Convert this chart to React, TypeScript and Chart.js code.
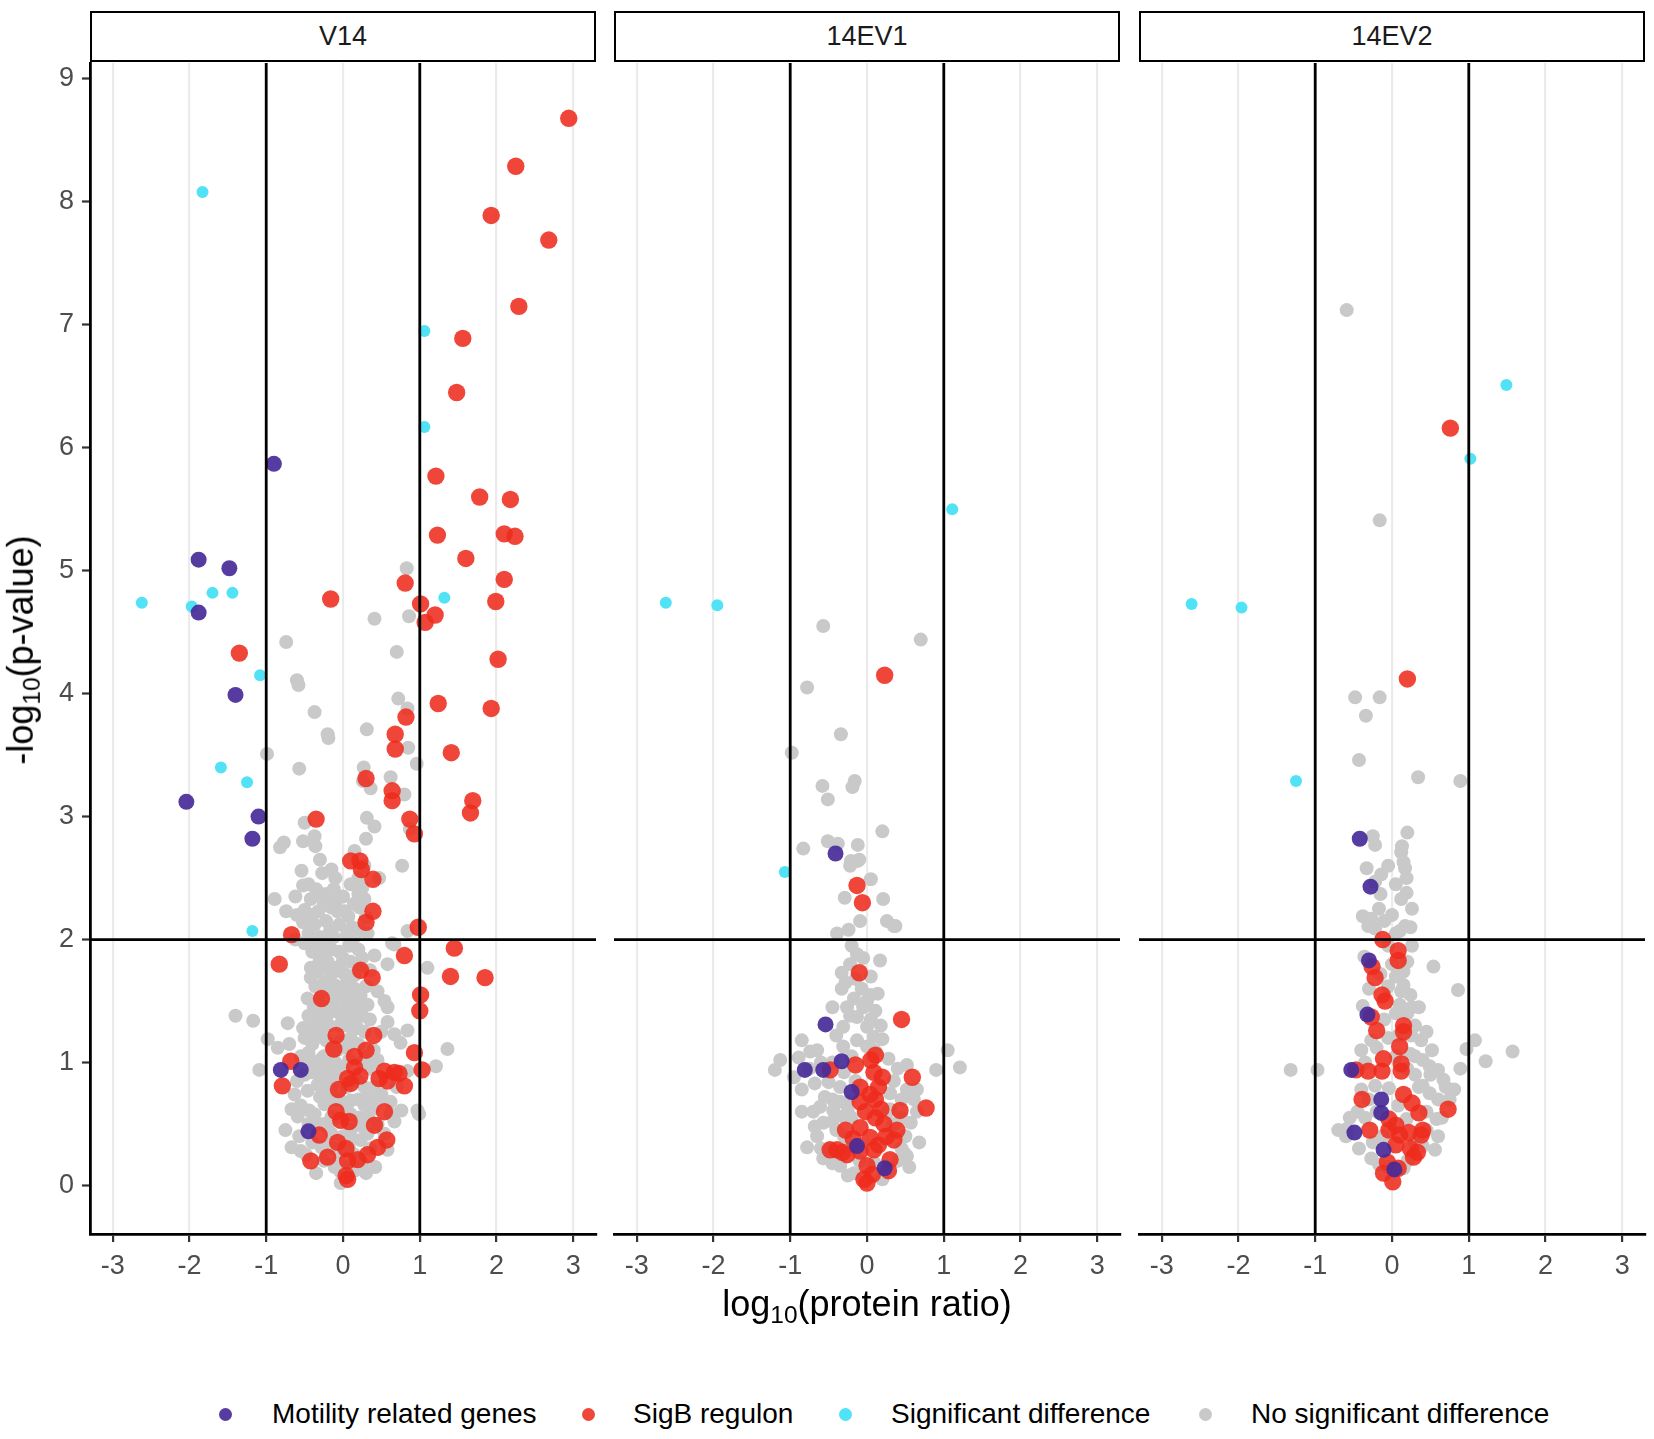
import { useEffect, useRef } from 'react';
import { Chart, registerables } from 'chart.js';
import type { Plugin } from 'chart.js';

Chart.register(...registerables);

type Pt = [number, number];

// ---- data (log10 ratio, -log10 p) ----
const FACETS = ['V14', '14EV1', '14EV2'];
const LEGEND_LABELS = ['Motility related genes', 'SigB regulon', 'Significant difference', 'No significant difference'];
const FC_CUTOFFS = [-1, 1];
const P_CUTOFF = 2;

const V14_MOTILITY: Pt[] = [
  [-0.90, 5.87], [-1.88, 5.09], [-1.48, 5.02], [-1.88, 4.66], [-1.40, 3.99], [-2.04, 3.12],
  [-1.10, 3.00], [-1.18, 2.82], [-0.81, 0.94], [-0.55, 0.94], [-0.45, 0.44],
];
const V14_SIGB: Pt[] = [
  [2.94, 8.68], [2.25, 8.29], [1.93, 7.89], [2.68, 7.69], [2.29, 7.15], [1.56, 6.89], [1.48, 6.45],
  [1.21, 5.77], [1.78, 5.60], [2.18, 5.58], [1.23, 5.29], [2.10, 5.30], [2.24, 5.28], [1.60, 5.10],
  [2.10, 4.93], [0.81, 4.90], [-0.16, 4.77], [1.01, 4.73], [1.99, 4.75], [1.20, 4.64], [1.07, 4.58],
  [-1.35, 4.33], [2.02, 4.28], [1.24, 3.92], [1.93, 3.88], [0.82, 3.81], [0.68, 3.67], [0.68, 3.55],
  [1.41, 3.52], [0.30, 3.31], [0.64, 3.21], [0.64, 3.13], [1.69, 3.13], [1.66, 3.03], [-0.35, 2.98],
  [0.87, 2.98], [0.93, 2.86], [0.10, 2.64], [0.22, 2.64], [0.24, 2.57], [0.39, 2.49], [0.39, 2.23],
  [0.30, 2.14], [0.98, 2.10], [-0.67, 2.04], [1.45, 1.93], [-0.83, 1.80], [0.80, 1.87], [0.23, 1.75],
  [0.38, 1.69], [1.40, 1.70], [1.85, 1.69], [1.01, 1.55], [1.00, 1.42], [-0.28, 1.52], [-0.09, 1.22],
  [0.40, 1.22], [-0.12, 1.11], [0.30, 1.10], [0.15, 1.05], [-0.68, 1.01], [0.93, 1.08], [1.03, 0.94],
  [0.15, 0.96], [0.22, 0.89], [0.06, 0.87], [-0.06, 0.78], [0.10, 0.83], [0.54, 0.93], [0.67, 0.92],
  [0.73, 0.91], [0.47, 0.87], [0.58, 0.85], [0.80, 0.81], [-0.79, 0.81], [-0.09, 0.60], [-0.03, 0.53],
  [0.08, 0.52], [0.54, 0.60], [0.41, 0.49], [-0.31, 0.41], [-0.07, 0.35], [0.04, 0.30], [0.57, 0.37],
  [0.45, 0.31], [0.32, 0.25], [-0.20, 0.23], [0.06, 0.20], [0.19, 0.21], [-0.42, 0.20], [0.06, 0.05],
  [0.04, 0.08],
];
const V14_SIG: Pt[] = [
  [-1.83, 8.08], [-2.62, 4.74], [-1.97, 4.71], [-1.70, 4.82], [-1.44, 4.82], [-1.08, 4.15],
  [-1.59, 3.40], [-1.25, 3.28], [-1.18, 2.07], [1.06, 6.95], [1.06, 6.17], [1.32, 4.78],
];
const V14_NONE: Pt[] = [
  [0.83, 5.02], [0.86, 4.63], [0.41, 4.61], [-0.74, 4.42], [0.70, 4.34], [-0.60, 4.11], [-0.58, 4.07],
  [0.72, 3.96], [0.84, 3.88], [-0.37, 3.85], [0.31, 3.71], [-0.20, 3.67], [-0.19, 3.64], [0.85, 3.56],
  [-0.99, 3.51], [0.96, 3.43], [-0.57, 3.39], [0.27, 3.40], [0.62, 3.32], [0.26, 3.29], [0.36, 3.23],
  [0.80, 3.18], [-0.50, 2.95], [0.31, 2.99], [0.41, 2.92], [-0.37, 2.84], [0.30, 2.82], [-0.77, 2.79],
  [-0.82, 2.75], [-0.52, 2.80], [-0.36, 2.76], [0.87, 2.90], [0.77, 2.60], [-0.54, 2.56], [-0.27, 2.54],
  [-0.15, 2.57], [0.20, 2.50], [0.47, 2.50], [-0.52, 2.44], [-0.35, 2.41], [-0.12, 2.41], [-0.42, 2.33],
  [-0.27, 2.34], [-0.20, 2.31], [-0.89, 2.33], [-0.74, 2.23], [-0.50, 2.24], [-0.32, 2.23], [-0.15, 2.26],
  [-0.07, 2.23], [0.07, 2.19], [0.22, 2.26], [0.20, 2.37], [0.25, 2.42], [-0.52, 2.14], [-0.37, 2.12],
  [-0.22, 2.15], [-0.17, 2.07], [0.12, 2.10], [0.22, 2.07], [0.84, 2.07], [0.64, 1.97], [-0.62, 2.00],
  [-0.50, 1.97], [-0.32, 2.37], [-0.22, 2.37], [0.02, 2.23], [0.14, 2.29], [0.30, 2.18], [0.32, 2.05],
  [0.05, 2.04], [-0.05, 2.12], [0.28, 2.33], [-0.10, 2.30], [-0.45, 2.05], [-0.30, 2.02], [-0.12, 2.02],
  [0.15, 2.02], [-0.40, 2.20], [-0.25, 2.28], [-0.60, 2.20], [-0.45, 2.45], [-0.10, 2.50], [0.10, 2.45],
  [-0.62, 2.35], [0.00, 2.35], [0.28, 2.60], [-0.30, 2.65], [0.15, 2.72],
  [-0.48, 1.97], [-0.22, 1.96], [0.67, 1.96], [0.58, 1.80], [1.10, 1.77], [-0.42, 1.77], [-0.33, 1.74],
  [-0.20, 1.82], [-0.11, 1.74], [-0.42, 1.69], [-0.24, 1.66], [-0.11, 1.63], [0.10, 1.82], [0.15, 1.71],
  [0.15, 1.60], [0.23, 1.55], [0.10, 1.50], [0.32, 1.47], [0.58, 1.45], [-0.37, 1.39], [-0.20, 1.39],
  [-0.42, 1.28], [-0.28, 1.26], [0.10, 1.39], [0.19, 1.28], [0.58, 1.33], [0.67, 1.23], [0.75, 1.16],
  [0.84, 1.26], [-1.17, 1.34], [-0.72, 1.32], [-1.40, 1.38], [-0.98, 1.19], [-0.85, 1.12], [-0.70, 1.15],
  [-1.09, 0.94], [1.36, 1.11], [1.21, 0.97], [0.84, 0.93], [-0.42, 1.01], [-0.29, 0.93], [-0.33, 0.82],
  [-0.46, 0.77], [-0.63, 0.74], [-0.20, 0.77], [-0.24, 0.66], [-0.67, 0.62], [-0.59, 0.56], [-0.37, 0.58],
  [-0.20, 0.48], [0.32, 0.72], [0.50, 0.74], [0.32, 0.56], [0.76, 0.61], [0.97, 0.61], [0.99, 0.58],
  [-0.67, 0.31], [-0.57, 0.40], [-0.28, 0.31], [-0.11, 0.15], [-0.03, 0.11], [0.15, 0.12], [-0.03, 0.02],
  [0.58, 0.29], [0.23, 0.37], [-0.15, 0.56], [0.10, 0.69], [0.19, 0.85], [-0.15, 0.90], [-0.15, 1.12],
  [-0.03, 1.17], [0.10, 1.20], [-0.03, 1.39], [-0.03, 1.52], [-0.46, 1.52], [-0.33, 1.50], [-0.07, 1.77],
  [0.41, 1.87], [0.54, 1.50], [-0.35, 0.50], [-0.44, 0.61], [0.45, 0.69], [0.67, 0.52], [0.32, 0.42],
  [0.54, 0.42], [-0.05, 1.90], [0.05, 1.65], [-0.40, 1.90], [-0.30, 1.85], [0.25, 1.85], [0.30, 1.62],
  [0.35, 1.35], [0.40, 1.10], [0.45, 1.02], [-0.50, 1.20], [-0.55, 1.05], [-0.40, 1.15], [-0.25, 1.05],
  [-0.10, 1.00], [0.00, 0.95], [-0.05, 0.70], [0.00, 0.40], [-0.12, 0.30], [0.10, 0.45], [0.20, 0.55],
  [0.28, 0.65], [-0.50, 0.90], [-0.60, 0.85], [-0.40, 0.35], [-0.25, 0.20], [0.08, 0.30], [0.25, 0.18],
  [-0.18, 1.65], [0.35, 1.75], [0.45, 1.58], [-0.55, 0.28], [0.42, 0.15], [-0.35, 0.10], [0.62, 0.68],
  [0.70, 0.80], [-0.75, 0.45], [0.15, 1.40], [-0.12, 1.48], [0.25, 1.00], [0.50, 1.25], [-0.30, 1.60],
  [0.05, 1.30], [-0.35, 1.95], [-0.25, 1.90], [-0.15, 1.92], [0.00, 1.85], [0.08, 1.95], [0.20, 1.92],
  [-0.32, 1.80], [-0.18, 1.76], [-0.05, 1.78], [0.02, 1.72], [0.20, 1.78], [-0.36, 1.62], [-0.27, 1.58],
  [-0.14, 1.56], [-0.02, 1.60], [0.08, 1.56], [0.22, 1.45], [-0.38, 1.45], [-0.25, 1.45], [-0.10, 1.42],
  [0.05, 1.44], [0.25, 1.38], [-0.45, 1.38], [-0.32, 1.33], [-0.18, 1.30], [-0.05, 1.30], [0.12, 1.32],
  [0.28, 1.25], [-0.52, 1.28], [-0.35, 1.20], [-0.22, 1.18], [-0.08, 1.10], [0.05, 1.12], [0.20, 1.15],
  [0.32, 1.05], [-0.45, 1.08], [-0.30, 1.02], [-0.18, 0.98], [0.08, 1.02], [0.35, 0.95], [-0.40, 0.92],
  [-0.10, 0.88], [0.05, 0.80], [0.28, 0.80], [-0.28, 0.85], [-0.15, 0.80], [0.40, 0.80], [-0.12, 0.70],
  [0.05, 0.62], [0.20, 0.70], [-0.30, 0.72], [0.38, 0.62], [-0.10, 0.55], [0.10, 0.58], [-0.25, 0.50],
  [0.25, 0.48], [-0.15, 0.42], [0.12, 0.38], [-0.05, 0.25], [0.15, 0.25], [-0.20, 0.32], [0.35, 0.30],
  [-0.08, 0.18], [0.02, 0.15], [-0.45, 0.50], [0.45, 0.50], [-0.55, 0.65], [0.62, 0.58], [-0.48, 0.25],
  [0.30, 0.10],
];

const EV1_MOTILITY: Pt[] = [
  [-0.41, 2.70], [-0.54, 1.31], [-0.33, 1.01], [-0.81, 0.94], [-0.57, 0.94], [-0.20, 0.76],
  [-0.13, 0.32], [0.23, 0.14],
];
const EV1_SIGB: Pt[] = [
  [0.23, 4.15], [-0.13, 2.44], [-0.06, 2.30], [-0.10, 1.73], [0.45, 1.35], [0.11, 1.06], [-0.48, 0.94],
  [-0.15, 0.98], [0.09, 0.92], [0.20, 0.88], [0.59, 0.88], [-0.09, 0.80], [0.04, 0.74], [-0.09, 0.68],
  [0.11, 0.70], [0.43, 0.61], [0.77, 0.63], [0.11, 0.55], [-0.09, 0.47], [-0.28, 0.45], [0.39, 0.45],
  [0.04, 0.39], [0.35, 0.37], [-0.39, 0.29], [-0.26, 0.25], [-0.09, 0.28], [0.09, 0.29], [0.30, 0.21],
  [0.00, 0.16], [0.07, 0.09], [0.00, 0.02], [-0.04, 0.05], [-0.48, 0.29], [0.05, 1.02], [0.15, 0.80],
  [-0.02, 0.60], [0.18, 0.62], [0.22, 0.50], [-0.18, 0.38], [0.15, 0.33], [0.25, 0.40], [-0.32, 0.27],
  [0.28, 0.12],
];
const EV1_SIG: Pt[] = [[-2.62, 4.74], [-1.95, 4.72], [1.11, 5.50], [-1.07, 2.55]];
const EV1_NONE: Pt[] = [
  [-0.57, 4.55], [0.70, 4.44], [-0.78, 4.05], [-0.34, 3.67], [-0.98, 3.52], [-0.58, 3.25], [-0.16, 3.29],
  [-0.19, 3.24], [-0.51, 3.14], [0.20, 2.88], [-0.51, 2.80], [-0.38, 2.78], [-0.83, 2.74], [-0.12, 2.77],
  [-0.21, 2.64], [-0.12, 2.64], [-0.22, 2.60], [0.05, 2.49], [0.21, 2.33], [-0.29, 2.34], [-0.10, 2.65],
  [-0.09, 2.15], [0.26, 2.15], [0.37, 2.11], [-0.39, 2.05], [-0.24, 2.08], [0.35, 2.11],
  [-0.13, 1.88], [0.17, 1.83], [-0.22, 1.80], [-0.33, 1.73], [-0.33, 1.60], [-0.07, 1.60], [0.14, 1.56],
  [-0.17, 1.52], [-0.26, 1.45], [0.11, 1.42], [-0.13, 1.37], [-0.31, 1.29], [0.00, 1.29], [0.20, 1.19],
  [-0.13, 1.18], [-0.85, 1.18], [-0.74, 1.09], [-0.89, 1.04], [-1.13, 1.02], [-1.20, 0.94], [1.05, 1.10],
  [1.21, 0.96], [0.90, 0.94], [0.52, 0.98], [0.65, 0.78], [0.28, 1.03], [-0.85, 0.78], [-0.68, 0.83],
  [-0.50, 0.84], [-0.35, 0.80], [-0.61, 0.64], [-0.44, 0.61], [-0.31, 0.56], [-0.57, 0.51], [-0.65, 0.40],
  [-0.78, 0.31], [-0.57, 0.22], [-0.35, 0.16], [-0.17, 0.10], [0.52, 0.24], [0.68, 0.35], [0.57, 0.51],
  [0.61, 0.70], [0.52, 0.78], [0.26, 0.59], [-0.31, 1.13], [0.00, 1.13], [0.09, 1.21], [0.49, 0.26],
  [-0.45, 0.70], [-0.25, 0.68], [-0.40, 0.45], [-0.20, 0.55], [0.30, 0.75], [0.40, 0.95], [-0.05, 1.45],
  [0.05, 1.70], [-0.45, 1.00], [-0.60, 1.00], [0.35, 0.50], [-0.50, 0.30], [0.40, 0.20],
  [-0.20, 1.95], [-0.05, 1.85], [-0.28, 1.65], [-0.15, 1.68], [0.05, 1.55], [-0.22, 1.38], [0.05, 1.35],
  [0.18, 1.30], [-0.40, 1.22], [-0.20, 1.05], [0.10, 1.10], [-0.65, 1.10], [-0.75, 0.95], [-0.95, 0.88],
  [-0.30, 0.92], [-0.15, 0.85], [0.35, 0.85], [-0.55, 0.72], [-0.35, 0.68], [0.45, 0.70], [-0.70, 0.60],
  [-0.25, 0.60], [0.45, 0.55], [-0.45, 0.52], [0.30, 0.62], [-0.68, 0.48], [-0.30, 0.40], [0.50, 0.40],
  [-0.60, 0.30], [-0.25, 0.30], [0.45, 0.30], [-0.45, 0.18], [-0.25, 0.08], [0.20, 0.05], [0.55, 0.15],
  [-0.10, 0.20], [0.10, 0.18], [-0.85, 0.60], [0.65, 0.60], [0.00, 1.50], [-0.45, 1.45],
];

const EV2_MOTILITY: Pt[] = [
  [-0.42, 2.82], [-0.28, 2.43], [-0.30, 1.83], [-0.32, 1.39], [-0.53, 0.94], [-0.14, 0.70],
  [-0.14, 0.59], [-0.49, 0.43], [-0.11, 0.29], [0.03, 0.13],
];
const EV2_SIGB: Pt[] = [
  [0.76, 6.16], [0.20, 4.12], [-0.12, 2.00], [0.08, 1.91], [0.08, 1.83], [-0.26, 1.78], [-0.22, 1.69],
  [-0.13, 1.55], [-0.09, 1.50], [-0.27, 1.37], [-0.20, 1.26], [0.15, 1.30], [0.15, 1.25], [0.10, 1.13],
  [0.12, 0.99], [0.12, 0.93], [-0.11, 1.03], [-0.13, 0.93], [-0.31, 0.93], [-0.47, 0.94], [-0.39, 0.70],
  [0.15, 0.74], [0.26, 0.67], [0.35, 0.59], [0.73, 0.62], [-0.29, 0.45], [-0.04, 0.45], [0.05, 0.49],
  [0.22, 0.43], [0.40, 0.45], [0.38, 0.41], [0.05, 0.33], [0.24, 0.30], [0.33, 0.27], [0.28, 0.23],
  [-0.06, 0.19], [-0.11, 0.10], [0.01, 0.03], [0.08, 0.14], [-0.04, 0.54], [0.10, 0.41],
];
const EV2_SIG: Pt[] = [[1.49, 6.51], [1.02, 5.91], [-2.61, 4.73], [-1.96, 4.70], [-1.25, 3.29]];
const EV2_NONE: Pt[] = [
  [-0.59, 7.12], [-0.16, 5.41], [-0.48, 3.97], [-0.16, 3.97], [-0.34, 3.82], [-0.43, 3.46], [0.34, 3.32],
  [0.89, 3.29], [-0.25, 2.84], [0.20, 2.87], [0.13, 2.76], [-0.22, 2.77], [0.12, 2.71], [0.15, 2.63],
  [0.17, 2.58], [0.19, 2.50], [-0.33, 2.58], [-0.14, 2.53], [-0.22, 2.47], [0.19, 2.38], [0.12, 2.33],
  [-0.15, 2.37], [0.26, 2.25], [-0.17, 2.25], [-0.38, 2.19], [-0.27, 2.17], [-0.31, 2.11], [0.17, 2.11],
  [0.24, 2.10], [0.10, 2.07], [-0.22, 2.09], [0.26, 1.95], [0.54, 1.78], [0.86, 1.59], [-0.36, 1.86],
  [0.15, 1.74], [0.15, 1.63], [0.24, 1.55], [0.26, 1.45], [0.10, 1.47], [-0.38, 1.46], [-0.27, 1.18],
  [-0.40, 1.10], [0.38, 1.18], [0.24, 1.07], [1.08, 1.18], [0.97, 1.11], [1.57, 1.09], [1.22, 1.01],
  [0.89, 0.95], [-1.32, 0.94], [-0.97, 0.94], [0.40, 1.02], [0.49, 0.97], [0.60, 0.94], [0.67, 0.86],
  [0.81, 0.78], [0.40, 0.81], [0.49, 0.75], [0.60, 0.70], [0.58, 0.54], [0.56, 0.29], [-0.40, 0.78],
  [-0.59, 0.46], [-0.43, 0.30], [-0.27, 0.22], [-0.17, 0.17], [0.15, 0.14], [0.19, 0.54], [-0.04, 0.79],
  [-0.22, 0.81], [0.05, 1.70], [0.05, 1.40], [-0.05, 1.20], [0.30, 0.90], [0.30, 0.35], [-0.20, 0.60],
  [0.45, 0.60], [-0.45, 0.60], [0.20, 0.95], [-0.30, 1.60], [0.00, 2.20], [0.30, 1.30], [0.45, 1.25],
  [-0.05, 2.60], [0.05, 2.45], [-0.10, 2.15], [0.05, 2.05], [-0.05, 1.95], [0.00, 1.80], [0.20, 1.82],
  [-0.15, 1.72], [0.12, 1.58], [-0.05, 1.62], [0.20, 1.40], [0.35, 1.45], [-0.10, 1.35], [0.08, 1.22],
  [0.25, 1.22], [-0.20, 1.12], [0.05, 1.05], [0.30, 1.05], [-0.35, 1.00], [0.50, 0.90], [0.35, 0.80],
  [-0.30, 0.70], [0.70, 0.80], [0.45, 0.45], [-0.60, 0.40], [-0.55, 0.55], [-0.35, 0.55], [-0.25, 0.35],
  [0.40, 0.32], [0.20, 0.20], [-0.05, 0.15], [0.60, 0.40], [-0.70, 0.45], [0.08, 0.65], [-0.12, 0.40],
  [0.65, 0.55], [0.75, 0.70], [0.52, 1.10],
];

const PANEL_DATA = [
  { motility: V14_MOTILITY, sigb: V14_SIGB, sig: V14_SIG, none: V14_NONE },
  { motility: EV1_MOTILITY, sigb: EV1_SIGB, sig: EV1_SIG, none: EV1_NONE },
  { motility: EV2_MOTILITY, sigb: EV2_SIGB, sig: EV2_SIG, none: EV2_NONE },
];

// ---- look ----
const FONT = "'Liberation Sans', Arial, Helvetica, sans-serif";
const COLORS = ['rgba(72,42,152,0.92)', 'rgba(238,44,30,0.88)', '#52E2F6', '#C9C9C9'];
const RADII = [8, 8.7, 6, 7];
const X_MIN = -3.295, X_MAX = 3.295;
const Y_MIN = -0.395, Y_MAX = 9.13;

const PANEL_LEFTS = [90, 614, 1139];
const PANEL_W = 506;
const PLOT_TOP = 63;
const PLOT_H = 1171;
const Y_AXIS_W = 90;
const X_AXIS_H = 60;
const PAD_TOP = 10;
const PAD_RIGHT = 10;
const LINE_W = 2.8;

const refLines: Plugin<'scatter'> = {
  id: 'refLines',
  afterDatasetsDraw(chart) {
    const { ctx, chartArea: a, scales } = chart;
    const x = scales.x, y = scales.y;
    ctx.save();
    ctx.strokeStyle = '#000';
    ctx.lineWidth = LINE_W;
    ctx.beginPath();
    for (const v of FC_CUTOFFS) {
      const px = x.getPixelForValue(v);
      ctx.moveTo(px, a.top);
      ctx.lineTo(px, a.bottom);
    }
    const py = y.getPixelForValue(P_CUTOFF);
    ctx.moveTo(a.left, py);
    ctx.lineTo(a.right, py);
    ctx.stroke();
    ctx.restore();
  },
};

// fixed axis boxes, no label overhang padding, so every panel lines up
const fixX = (s: any) => { s.height = X_AXIS_H; s.paddingLeft = 0; s.paddingRight = 0; };
const fixY = (s: any) => { s.width = Y_AXIS_W; s.paddingTop = 0; s.paddingBottom = 0; };

function Panel({ index }: { index: number }) {
  const canvasRef = useRef<HTMLCanvasElement>(null);
  const showY = index === 0;

  useEffect(() => {
    if (!canvasRef.current) return;
    const d = PANEL_DATA[index];
    // dataset 0 is drawn on top in Chart.js
    const groups = [d.motility, d.sigb, d.sig, d.none];
    const chart = new Chart(canvasRef.current, {
      type: 'scatter',
      data: {
        datasets: groups.map((g, i) => ({
          label: LEGEND_LABELS[i],
          data: g.map(([x, y]) => ({ x, y })),
          backgroundColor: COLORS[i],
          pointRadius: RADII[i],
          pointHoverRadius: RADII[i],
          pointBorderWidth: 0,
          borderWidth: 0,
        })),
      },
      options: {
        responsive: false,
        animation: false,
        events: [],
        layout: { padding: { top: PAD_TOP, right: PAD_RIGHT, left: 0, bottom: 0 } },
        plugins: { legend: { display: false }, tooltip: { enabled: false } },
        scales: {
          x: {
            type: 'linear',
            min: X_MIN,
            max: X_MAX,
            afterFit: fixX,
            ticks: {
              stepSize: 1,
              includeBounds: false,
              color: '#4D4D4D',
              font: { family: FONT, size: 27 },
              padding: 8,
              maxRotation: 0,
            },
            grid: { color: '#EBEBEB', lineWidth: 2.2, drawTicks: true, tickLength: 8, tickColor: '#333333', tickWidth: 2.2 },
            border: { display: true, color: '#000', width: LINE_W },
          },
          y: {
            type: 'linear',
            min: Y_MIN,
            max: Y_MAX,
            afterFit: fixY,
            ticks: {
              display: showY,
              stepSize: 1,
              includeBounds: false,
              color: '#4D4D4D',
              font: { family: FONT, size: 27 },
              padding: 8,
            },
            grid: { display: showY, drawOnChartArea: false, drawTicks: true, tickLength: 8, tickColor: '#333333', tickWidth: 2.2 },
            border: { display: showY, color: '#000', width: LINE_W },
          },
        },
      },
      plugins: [refLines],
    });
    return () => { chart.destroy(); };
  }, [index, showY]);

  const w = Y_AXIS_W + PANEL_W + PAD_RIGHT;
  const h = PAD_TOP + PLOT_H + X_AXIS_H;
  return (
    <>
      <div style={{
        position: 'absolute', left: PANEL_LEFTS[index], top: 11, width: PANEL_W, height: 51,
        border: '2.5px solid #000', boxSizing: 'border-box', display: 'flex', alignItems: 'center',
        justifyContent: 'center', fontFamily: FONT, fontSize: 27, color: '#1A1A1A', background: '#fff',
      }}>{FACETS[index]}</div>
      <canvas
        ref={canvasRef}
        width={w}
        height={h}
        style={{ position: 'absolute', left: PANEL_LEFTS[index] - Y_AXIS_W, top: PLOT_TOP - PAD_TOP, width: w, height: h }}
      />
    </>
  );
}

const LEGEND_KEY_X = [225, 588, 845, 1205];
const LEGEND_TEXT_X = [272, 633, 891, 1251];

export default function App() {
  return (
    <div style={{ position: 'absolute', left: 0, top: 0, width: 1654, height: 1439, background: '#fff', fontFamily: FONT, overflow: 'hidden' }}>
      {FACETS.map((_, i) => <Panel key={i} index={i} />)}
      <div style={{
        position: 'absolute', left: 23, top: 650, transform: 'translate(-50%, -50%) rotate(-90deg)',
        whiteSpace: 'nowrap', fontSize: 36, color: '#000',
      }}>-log<sub style={{ fontSize: '0.68em', verticalAlign: '-0.3em' }}>10</sub>(p-value)</div>
      <div style={{
        position: 'absolute', left: 867, top: 1306, transform: 'translate(-50%, -50%)',
        whiteSpace: 'nowrap', fontSize: 36, color: '#000',
      }}>log<sub style={{ fontSize: '0.68em', verticalAlign: '-0.3em' }}>10</sub>(protein ratio)</div>
      {LEGEND_LABELS.map((label, i) => (
        <div key={label}>
          <div style={{
            position: 'absolute', left: LEGEND_KEY_X[i] - 6.5, top: 1414 - 6.5, width: 13, height: 13,
            borderRadius: '50%', background: COLORS[i],
          }} />
          <div style={{
            position: 'absolute', left: LEGEND_TEXT_X[i], top: 1414, transform: 'translateY(-50%)',
            whiteSpace: 'nowrap', fontSize: 28, color: '#000',
          }}>{label}</div>
        </div>
      ))}
    </div>
  );
}
